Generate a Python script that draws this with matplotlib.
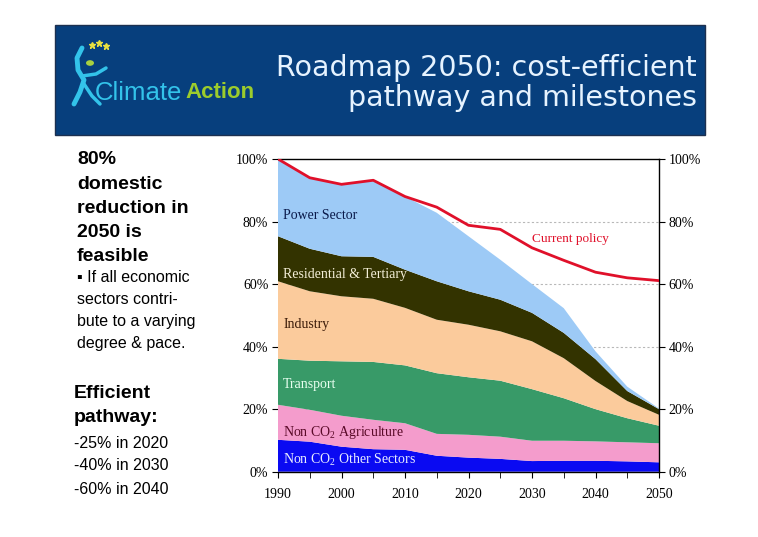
import matplotlib.pyplot as plt
from matplotlib.patches import Rectangle, Circle
from matplotlib.lines import Line2D

# data (% of 1990 emissions)
years = [1990, 1995, 2000, 2005, 2010, 2015, 2020, 2025, 2030, 2035, 2040, 2045, 2050]
other_sectors = [10.2, 9.6, 8.0, 7.2, 7.0, 5.1, 4.5, 4.1, 3.4, 3.5, 3.5, 3.3, 3.0]
agriculture = [11.2, 10.2, 9.9, 9.4, 8.5, 7.0, 7.3, 7.1, 6.5, 6.4, 6.2, 6.1, 6.1]
transport = [14.7, 15.7, 17.4, 18.5, 18.5, 19.4, 18.4, 17.9, 16.5, 13.6, 10.3, 7.7, 5.6]
industry = [24.8, 22.2, 20.8, 20.2, 18.4, 17.1, 16.8, 15.8, 15.3, 12.8, 9.0, 5.5, 3.5]
residential = [14.4, 13.6, 12.8, 13.4, 12.2, 12.3, 10.7, 10.1, 9.1, 8.1, 7.0, 3.2, 1.8]
power = [24.7, 22.7, 23.1, 24.3, 23.4, 21.9, 17.6, 12.8, 9.2, 7.9, 2.5, 1.4, 0.2]
current_policy = [100, 94.0, 91.9, 93.2, 88.0, 84.6, 78.8, 77.5, 71.6, 67.6, 63.8, 62.0, 61.1]

y_ticks = [0, 20, 40, 60, 80, 100]
x_ticks = [1990, 2000, 2010, 2020, 2030, 2040, 2050]

colors = ['#0a0af2', '#f49ccc', '#389a68', '#fbcb9c', '#333300', '#9dcaf6']

plt.rcParams['mathtext.fontset'] = 'custom'
plt.rcParams['mathtext.rm'] = 'Liberation Serif'

W, H = 758, 537
fig = plt.figure(figsize=(W / 100, H / 100), dpi=100)
fig.patch.set_facecolor('white')


def fx(x):
    return x / W


def fy(y):
    return 1 - y / H


# header banner
fig.patches.append(Rectangle((fx(55), fy(135)), fx(650), 110 / H, transform=fig.transFigure,
                             facecolor='#073f7d', edgecolor='#1c3050', lw=1, zorder=0))
fig.text(fx(697), fy(68), 'Roadmap 2050: cost-efficient', ha='right', va='center',
         fontsize=20.5, color='#e6f3ff', family='DejaVu Sans')
fig.text(fx(697), fy(98), 'pathway and milestones', ha='right', va='center',
         fontsize=20.5, color='#e6f3ff', family='DejaVu Sans')

# logo (rough)
fig.text(fx(182), fy(93), 'Climate', ha='right', va='center', fontsize=18.5,
         color='#33c3ea', family='Liberation Sans')
fig.text(fx(185), fy(93), 'Action', ha='left', va='center', fontsize=16, fontweight='bold',
         color='#9ccc2c', family='Liberation Sans')
fig.patches.append(Circle((fx(90), fy(63)), 4 / W, transform=fig.transFigure,
                          facecolor='#a8d040', edgecolor='none'))
fig.lines.append(Line2D([fx(82), fx(77), fx(78), fx(84), fx(80), fx(74)],
                        [fy(48), fy(58), fy(70), fy(80), fy(92), fy(104)],
                        transform=fig.transFigure, color='#33c3ea', lw=3.5, solid_capstyle='round'))
fig.lines.append(Line2D([fx(82), fx(96), fx(106)], [fy(76), fy(74), fy(68)],
                        transform=fig.transFigure, color='#33c3ea', lw=2.5, solid_capstyle='round'))
fig.lines.append(Line2D([fx(84), fx(92), fx(100)], [fy(84), fy(96), fy(104)],
                        transform=fig.transFigure, color='#33c3ea', lw=2.5, solid_capstyle='round'))
fig.lines.append(Line2D([fx(92), fx(99), fx(106)], [fy(45), fy(43), fy(46)],
                        transform=fig.transFigure, ls='none', marker='*', ms=5, color='#e8e040'))

# left text
bold = ['80%', 'domestic', 'reduction in', '2050 is', 'feasible']
for i, s in enumerate(bold):
    fig.text(fx(77), fy(160 + 24.2 * i), s, ha='left', va='center', fontsize=14,
             fontweight='bold', color='black', family='Liberation Sans')
bullet = ['\u25aa If all economic', 'sectors contri-', 'bute to a varying', 'degree & pace.']
for i, s in enumerate(bullet):
    fig.text(fx(77), fy(278 + 21.7 * i), s, ha='left', va='center', fontsize=11.5,
             color='black', family='Liberation Sans')
for i, s in enumerate(['Efficient', 'pathway:']):
    fig.text(fx(74), fy(393 + 25 * i), s, ha='left', va='center', fontsize=14,
             fontweight='bold', color='black', family='Liberation Sans')
for i, s in enumerate(['-25% in 2020', '-40% in 2030', '-60% in 2040']):
    fig.text(fx(74), fy(443 + 23 * i), s, ha='left', va='center', fontsize=11.5,
             color='black', family='Liberation Sans')

# chart
ax = fig.add_axes([fx(278), fy(471.7), fx(659 - 278), (471.7 - 159) / H])
ax.set_facecolor('white')
ax.stackplot(years, other_sectors, agriculture, transport, industry, residential, power,
             colors=colors, lw=0, zorder=2)
ax.plot(years, current_policy, color='#e0102a', lw=2, zorder=3)

ax.set_xlim(1990, 2050)
ax.set_ylim(0, 100)
ax.set_yticks(y_ticks)
ax.set_yticklabels([f'{v}%' for v in y_ticks])
ax.set_xticks(x_ticks)
ax.set_xticks(years, minor=True)
for v in y_ticks[1:-1]:
    ax.axhline(v, color='#b8b8b8', lw=0.8, ls=(0, (2, 2)), zorder=1)

ax.spines['left'].set_visible(False)
for side in ['top', 'right', 'bottom']:
    ax.spines[side].set_linewidth(1)
ax.tick_params(axis='y', which='both', direction='out', length=4, labelsize=10,
               right=True, labelright=True, left=True, labelleft=True, pad=3)
ax.tick_params(axis='x', which='both', direction='out', length=4, labelsize=10, pad=8)
for lab in ax.get_xticklabels() + ax.get_yticklabels():
    lab.set_family('Liberation Serif')

serif = 'Liberation Serif'
ax.text(1990.8, 82, 'Power Sector', fontsize=10, color='#0a1a4a', family=serif, va='center')
ax.text(1990.8, 63, 'Residential & Tertiary', fontsize=10, color='#f4efd8', family=serif, va='center')
ax.text(1990.8, 47, 'Industry', fontsize=10, color='#3a1a08', family=serif, va='center')
ax.text(1990.8, 28, 'Transport', fontsize=10, color='#e8fff0', family=serif, va='center')
ax.text(1990.8, 12.5, 'Non CO$_2$ Agriculture', fontsize=10, color='#5a0a28', family=serif, va='center')
ax.text(1990.8, 3.8, 'Non CO$_2$ Other Sectors', fontsize=10, color='#e8ecff', family=serif, va='center')
ax.text(2030.0, 74.5, 'Current policy', fontsize=9.5, color='#e0102a', family=serif, va='center')

fig.savefig('out.png', dpi=100)
